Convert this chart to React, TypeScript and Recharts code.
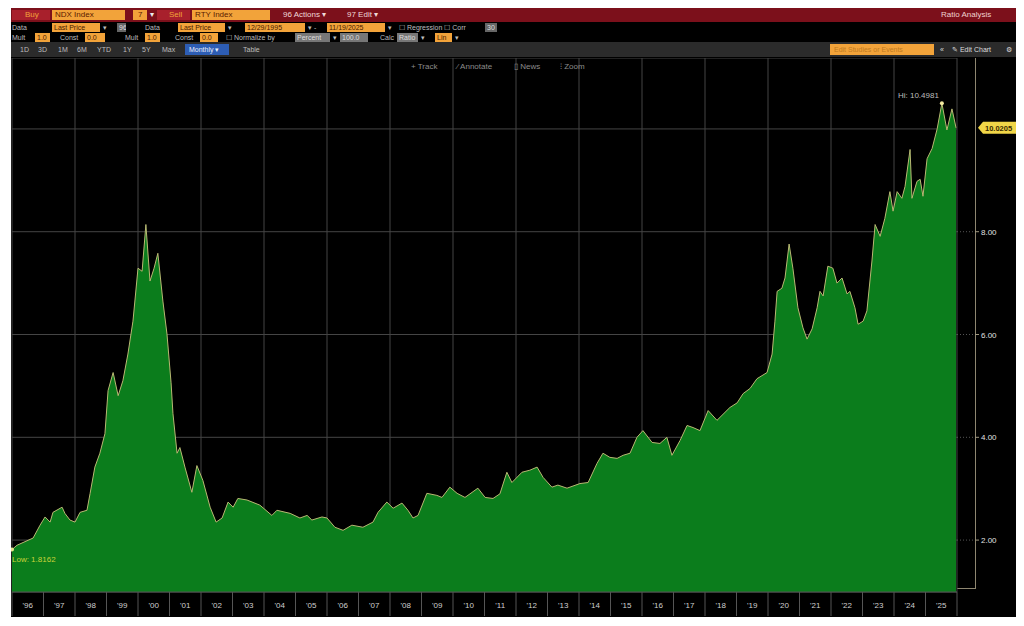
import React from "react";
import {
  AreaChart,
  Area,
  XAxis,
  YAxis,
  CartesianGrid,
  ReferenceLine,
  ReferenceDot,
} from "recharts";

// NDX Index / RTY Index monthly ratio
const dates = [
  1996.0, 1996.16, 1996.67, 1996.89, 1997.05, 1997.21, 1997.3, 1997.59, 1997.68, 1997.84,
  1998.0, 1998.16, 1998.38, 1998.48, 1998.63, 1998.79, 1998.95, 1999.05, 1999.21, 1999.37,
  1999.52, 1999.68, 1999.84, 2000.0, 2000.13, 2000.25, 2000.38, 2000.51, 2000.63, 2000.79,
  2000.92, 2001.05, 2001.11, 2001.24, 2001.33, 2001.49, 2001.71, 2001.87, 2002.06, 2002.29,
  2002.48, 2002.67, 2002.86, 2003.02, 2003.17, 2003.46, 2003.87, 2004.25, 2004.41, 2004.83,
  2005.14, 2005.37, 2005.52, 2005.84, 2006.0, 2006.25, 2006.51, 2006.79, 2007.14, 2007.46,
  2007.62, 2007.9, 2008.1, 2008.38, 2008.57, 2008.73, 2008.89, 2009.17, 2009.49, 2009.65,
  2009.9, 2010.13, 2010.38, 2010.79, 2011.02, 2011.27, 2011.49, 2011.71, 2011.87, 2012.19,
  2012.44, 2012.67, 2012.86, 2013.14, 2013.33, 2013.62, 2014.03, 2014.29, 2014.57, 2014.76,
  2014.98, 2015.21, 2015.4, 2015.62, 2015.84, 2016.03, 2016.32, 2016.57, 2016.79, 2016.95,
  2017.21, 2017.43, 2017.62, 2017.84, 2018.1, 2018.38, 2018.79, 2019.02, 2019.21, 2019.43,
  2019.65, 2019.81, 2019.97, 2020.13, 2020.22, 2020.29, 2020.44, 2020.54, 2020.67, 2020.79,
  2020.95, 2021.11, 2021.24, 2021.4, 2021.56, 2021.65, 2021.75, 2021.9, 2022.06, 2022.19,
  2022.35, 2022.51, 2022.6, 2022.76, 2022.86, 2023.02, 2023.14, 2023.3, 2023.4, 2023.56,
  2023.71, 2023.87, 2023.97, 2024.1, 2024.25, 2024.35, 2024.51, 2024.57, 2024.73, 2024.83,
  2024.92, 2025.05, 2025.21, 2025.37, 2025.52, 2025.68, 2025.84, 2025.97,
];

const ratio = [
  1.8162, 1.9, 2.04, 2.29, 2.45, 2.35, 2.54, 2.64, 2.52, 2.39,
  2.35, 2.54, 2.58, 2.91, 3.42, 3.69, 4.07, 4.91, 5.26, 4.81,
  5.1, 5.62, 6.26, 7.29, 7.23, 8.14, 7.04, 7.29, 7.58, 6.65,
  6.01, 5.06, 4.46, 3.69, 3.8, 3.42, 2.93, 3.45, 3.16, 2.64,
  2.35, 2.43, 2.74, 2.64, 2.81, 2.78, 2.68, 2.48, 2.58, 2.52,
  2.43, 2.48, 2.39, 2.45, 2.43, 2.25, 2.19, 2.29, 2.25, 2.35,
  2.54, 2.74, 2.62, 2.72, 2.58, 2.43, 2.48, 2.91, 2.87, 2.83,
  3.03, 2.91, 2.83, 3.01, 2.83, 2.81, 2.9, 3.32, 3.12, 3.32,
  3.36, 3.42, 3.22, 3.03, 3.07, 3.01, 3.1, 3.12, 3.49, 3.69,
  3.61, 3.59, 3.65, 3.69, 4.0, 4.13, 3.9, 3.88, 4.0, 3.65,
  3.94, 4.23, 4.19, 4.13, 4.52, 4.33, 4.58, 4.67, 4.85, 4.95,
  5.14, 5.2, 5.26, 5.62, 6.26, 6.84, 6.9, 7.1, 7.76, 7.29,
  6.52, 6.13, 5.91, 6.11, 6.52, 6.84, 6.75, 7.33, 7.29, 7.0,
  7.1, 6.79, 6.84, 6.52, 6.2, 6.26, 6.46, 7.43, 8.14, 7.91,
  8.26, 8.78, 8.4, 8.78, 8.65, 8.88, 9.6, 8.65, 8.98, 9.02,
  8.69, 9.42, 9.62, 10.0, 10.4981, 9.98, 10.39, 10.0205,
];

const yearTicks = [
  1996, 1997, 1998, 1999, 2000, 2001, 2002, 2003, 2004, 2005, 2006, 2007, 2008, 2009, 2010,
  2011, 2012, 2013, 2014, 2015, 2016, 2017, 2018, 2019, 2020, 2021, 2022, 2023, 2024, 2025, 2026,
];
const yearLabels = [
  "'96", "'97", "'98", "'99", "'00", "'01", "'02", "'03", "'04", "'05", "'06", "'07", "'08",
  "'09", "'10", "'11", "'12", "'13", "'14", "'15", "'16", "'17", "'18", "'19", "'20", "'21",
  "'22", "'23", "'24", "'25",
];
const gridYears = [1998, 2000, 2002, 2004, 2006, 2008, 2010, 2012, 2014, 2016, 2018, 2020, 2022, 2024];
const valueTicks = [2, 4, 6, 8, 10];

const hiDate = 2025.52;
const hiValue = 10.4981;
const lowDate = 1996.0;
const lowValue = 1.8162;
const lastValue = 10.0205;

const data = dates.map((d, i) => ({ date: d, ratio: ratio[i] }));

const FONT = "'Liberation Sans', Arial, sans-serif";
const ORANGE = "#f2a33a";
const YEAR_W = 945 / 30;

const XTick = (props: any) => {
  const { x, y, payload } = props;
  const idx = yearTicks.indexOf(payload.value);
  return (
    <g>
      <line x1={x} x2={x} y1={y} y2={y + 24} stroke="#555" strokeWidth={1} />
      {idx < yearLabels.length && (
        <text x={x + YEAR_W / 2} y={y + 16} textAnchor="middle" fill="#cfcfcf" fontSize={8} fontFamily={FONT}>
          {yearLabels[idx]}
        </text>
      )}
    </g>
  );
};

const YTick = (props: any) => {
  const { x, y, payload } = props;
  if (payload.value === 10) return null;
  return (
    <g>
      <line x1={x} x2={x + 18} y1={y} y2={y} stroke="#555" strokeDasharray="1 2" />
      <line x1={x + 18} x2={x + 22} y1={y} y2={y} stroke="#a09880" />
      <text x={x + 24} y={y + 3} fill="#e0e0e0" fontSize={8} fontFamily={FONT}>
        {payload.value.toFixed(2)}
      </text>
    </g>
  );
};

const LastTag = (props: any) => {
  const { viewBox } = props;
  const x0 = viewBox.x + viewBox.width + 21;
  const y = viewBox.y;
  return (
    <g>
      <polygon
        points={`${x0},${y} ${x0 + 5},${y - 6} ${x0 + 38},${y - 6} ${x0 + 38},${y + 6} ${x0 + 5},${y + 6}`}
        fill="#f1d648"
      />
      <text x={x0 + 7} y={y + 3} fill="#3b2c00" fontSize={7.5} fontWeight="bold" fontFamily={FONT}>
        {lastValue.toFixed(4)}
      </text>
    </g>
  );
};

const HiLabel = (props: any) => {
  const { viewBox } = props;
  return (
    <text x={viewBox.x - 1} y={viewBox.y - 3} textAnchor="end" fill="#bdbdbd" fontSize={8} fontFamily={FONT}>
      {`Hi: ${hiValue.toFixed(4)}`}
    </text>
  );
};

const LowLabel = (props: any) => {
  const { viewBox } = props;
  return (
    <text x={viewBox.x + 2} y={viewBox.y + 14} fill="#c9d23a" fontSize={8} fontFamily={FONT}>
      {`Low: ${lowValue.toFixed(4)}`}
    </text>
  );
};

const Box = ({ x, w, children, bg = ORANGE, color = "#4a1a00" }: any) => (
  <span
    style={{
      position: "absolute",
      left: x,
      top: 1,
      width: w,
      height: 9,
      background: bg,
      color,
      fontSize: 7,
      lineHeight: "9px",
      paddingLeft: 2,
      boxSizing: "border-box",
      overflow: "hidden",
      whiteSpace: "nowrap",
    }}
  >
    {children}
  </span>
);

const T = ({ x, children, color = "#bdbdbd", size = 7, top = 1 }: any) => (
  <span
    style={{
      position: "absolute",
      left: x,
      top,
      color,
      fontSize: size,
      lineHeight: "9px",
      whiteSpace: "nowrap",
    }}
  >
    {children}
  </span>
);

export default function App() {
  return (
    <div style={{ position: "absolute", left: 0, top: 0, width: 1024, height: 626, background: "#fff", fontFamily: FONT }}>
      <div style={{ position: "absolute", left: 11, top: 8, width: 1005, height: 609, background: "#000" }}>
        {/* title bar */}
        <div style={{ position: "absolute", left: 0, top: 0, width: 1005, height: 14, background: "#7c101b" }}>
          <div style={{ position: "absolute", left: 1, top: 2, width: 38, height: 10, background: "#a8202c" }} />
          <T x={14} top={2} color={ORANGE} size={8}>Buy</T>
          <div style={{ position: "absolute", left: 41, top: 2, width: 73, height: 10, background: ORANGE }} />
          <T x={44} top={2} color="#5a1a00" size={8}>NDX Index</T>
          <div style={{ position: "absolute", left: 122, top: 2, width: 14, height: 10, background: ORANGE }} />
          <T x={127} top={2} color="#5a1a00" size={8}>7</T>
          <T x={139} top={2} color="#eee" size={8}>▾</T>
          <div style={{ position: "absolute", left: 146, top: 2, width: 33, height: 10, background: "#a8202c" }} />
          <T x={158} top={2} color={ORANGE} size={8}>Sell</T>
          <div style={{ position: "absolute", left: 181, top: 2, width: 78, height: 10, background: ORANGE }} />
          <T x={184} top={2} color="#5a1a00" size={8}>RTY Index</T>
          <T x={272} top={2} color="#f0d8d8" size={8}>96 Actions ▾</T>
          <T x={336} top={2} color="#f0d8d8" size={8}>97 Edit ▾</T>
          <T x={930} top={2} color="#f0d0d0" size={8}>Ratio Analysis</T>
        </div>
        {/* data row */}
        <div style={{ position: "absolute", left: 0, top: 14, width: 1005, height: 10 }}>
          <T x={1}>Data</T>
          <Box x={41} w={48}>Last Price</Box>
          <T x={92}>▾</T>
          <Box x={106} w={9} bg="#666" color="#ddd">96</Box>
          <T x={134}>Data</T>
          <Box x={167} w={47}>Last Price</Box>
          <T x={217}>▾</T>
          <Box x={234} w={60}>12/29/1995</Box>
          <T x={297}>▾ -</T>
          <Box x={316} w={58}>11/19/2025</Box>
          <T x={377}>▾</T>
          <T x={388}>☐ Regression ☐ Corr</T>
          <Box x={474} w={12} bg="#666" color="#ddd">30</Box>
        </div>
        {/* mult/const row */}
        <div style={{ position: "absolute", left: 0, top: 24, width: 1005, height: 10 }}>
          <T x={1}>Mult</T>
          <Box x={24} w={15}>1.0</Box>
          <T x={49}>Const</T>
          <Box x={74} w={20}>0.0</Box>
          <T x={114}>Mult</T>
          <Box x={134} w={15}>1.0</Box>
          <T x={164}>Const</T>
          <Box x={189} w={18}>0.0</Box>
          <T x={215}>☐ Normalize by</T>
          <Box x={284} w={35} bg="#777" color="#ddd">Percent</Box>
          <T x={322}>▾</T>
          <Box x={329} w={28} bg="#777" color="#ddd">100.0</Box>
          <T x={369}>Calc</T>
          <Box x={386} w={21} bg="#777" color="#ddd">Ratio</Box>
          <T x={410}>▾</T>
          <Box x={424} w={17}>Lin</Box>
          <T x={444}>▾</T>
        </div>
        {/* range row */}
        <div style={{ position: "absolute", left: 0, top: 34, width: 1005, height: 15, background: "#2b2b2b" }}>
          <T x={9} top={3}>1D</T>
          <T x={27} top={3}>3D</T>
          <T x={47} top={3}>1M</T>
          <T x={66} top={3}>6M</T>
          <T x={86} top={3}>YTD</T>
          <T x={112} top={3}>1Y</T>
          <T x={131} top={3}>5Y</T>
          <T x={151} top={3}>Max</T>
          <div style={{ position: "absolute", left: 174, top: 2, width: 44, height: 11, background: "#2d5db4" }} />
          <T x={178} top={3} color="#e8eefc">Monthly ▾</T>
          <T x={232} top={3}>Table</T>
          <div style={{ position: "absolute", left: 819, top: 2, width: 104, height: 11, background: ORANGE }} />
          <T x={823} top={3} color="#c07a20">Edit Studies or Events</T>
          <T x={929} top={3} color="#ddd">«</T>
          <T x={941} top={3} color="#ddd">✎ Edit Chart</T>
          <T x={995} top={3} color="#ddd">⚙</T>
        </div>
        {/* right axis line */}
        <div style={{ position: "absolute", left: 964, top: 50, width: 1, height: 530, background: "#8e8670" }} />
        <div style={{ position: "absolute", left: 946, top: 580, width: 19, height: 1, background: "#8e8670" }} />

        <div style={{ position: "absolute", left: 0, top: 50 }}>
          <AreaChart width={1005} height={559} data={data} margin={{ top: 0, right: 0, left: 1, bottom: 0 }}>
            <XAxis xAxisId="grid" type="number" dataKey="date" domain={[1996, 2026]} ticks={gridYears} hide />
            <CartesianGrid xAxisId="grid" stroke="#454545" />
            <XAxis
              dataKey="date"
              type="number"
              domain={[1996, 2026]}
              ticks={yearTicks}
              allowDataOverflow
              height={25}
              tickLine={false}
              tickSize={0}
              tickMargin={0}
              axisLine={{ stroke: "#555" }}
              tick={<XTick />}
              interval={0}
            />
            <YAxis
              orientation="right"
              type="number"
              domain={[0.99, 11.38]}
              allowDataOverflow
              ticks={valueTicks}
              width={59}
              tickLine={false}
              tickSize={0}
              tickMargin={0}
              axisLine={false}
              tick={<YTick />}
              interval={0}
            />
            <Area
              type="linear"
              dataKey="ratio"
              stroke="#b9b873"
              strokeWidth={1}
              fill="#0b7d1c"
              fillOpacity={1}
              isAnimationActive={false}
              dot={false}
              activeDot={false}
            />
            <ReferenceLine y={lastValue} stroke="none" label={<LastTag />} />
            <ReferenceDot x={hiDate} y={hiValue} r={2} fill="#f3e9a0" stroke="none" label={<HiLabel />} />
            <ReferenceDot x={lowDate} y={lowValue} r={2} fill="#e6e690" stroke="none" label={<LowLabel />} />
          </AreaChart>
        </div>
        {/* plot tools */}
        <T x={400} top={54} color="#8c8c8c" size={8}>+ Track</T>
        <T x={446} top={54} color="#8c8c8c" size={8}>⁄ Annotate</T>
        <T x={503} top={54} color="#8c8c8c" size={8}>▯ News</T>
        <T x={549} top={54} color="#8c8c8c" size={8}>⁝ Zoom</T>
      </div>
    </div>
  );
}
